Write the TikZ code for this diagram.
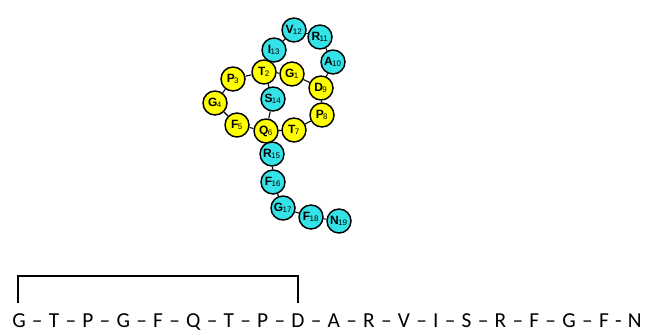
\documentclass[tikz,border=0pt]{standalone}
\usepackage{fontspec}
\setmainfont{Carlito}
\newfontfamily\resfont{Liberation Sans}
\usepackage{tikz}
\usetikzlibrary{positioning, calc}
\definecolor{RingYellow}{HTML}{FFFF00}
\definecolor{TailCyan}{HTML}{33E3E8}

\tikzset{
  residue/.style={circle, draw=black, line width=1.1pt, minimum size=18pt,
                  inner sep=0pt, font=\resfont\bfseries\fontsize{9}{10}\selectfont},
  ring/.style={residue, fill=RingYellow},
  tail/.style={residue, fill=TailCyan},
  bond/.style={draw=black, line width=0.8pt}
}
\newcommand{\resid}[2]{#1\kern-0.5pt\textsubscript{\mdseries #2}}

\begin{document}
\begin{tikzpicture}[x=0.75pt, y=-0.75pt]
\useasboundingbox (0,0) rectangle (645,332);

% lasso ring (yellow)
\node[ring] (g1) at (292,74) {\resid{G}{1}};
\node[ring] (t2) at (264,72) {\resid{T}{2}};
\node[ring] (p3) at (233,79) {\resid{P}{3}};
\node[ring] (g4) at (215,103) {\resid{G}{4}};
\node[ring] (f5) at (237,125) {\resid{F}{5}};
\node[ring] (q6) at (266,131) {\resid{Q}{6}};
\node[ring] (t7) at (294,130) {\resid{T}{7}};
\node[ring] (p8) at (322,115) {\resid{P}{8}};
\node[ring] (d9) at (321,88) {\resid{D}{9}};

% loop and tail (cyan)
\node[tail] (a10) at (333,62) {\resid{A}{10}};
\node[tail] (r11) at (320,37) {\resid{R}{11}};
\node[tail] (v12) at (294,30) {\resid{V}{12}};
\node[tail] (i13) at (274,50) {\resid{I}{13}};
\node[tail] (s14) at (273,99) {\resid{S}{14}};
\node[tail] (r15) at (272,154) {\resid{R}{15}};
\node[tail] (f16) at (273,182) {\resid{F}{16}};
\node[tail] (g17) at (283,208) {\resid{G}{17}};
\node[tail] (f18) at (311,217) {\resid{F}{18}};
\node[tail] (n19) at (339,221) {\resid{N}{19}};

% backbone
\foreach \a/\b in {g1/t2, t2/p3, p3/g4, g4/f5, f5/q6, q6/t7, t7/p8, p8/d9,
                   d9/g1, d9/a10, a10/r11, r11/v12, v12/i13, i13/t2,
                   t2/s14, s14/q6, q6/r15, r15/f16, f16/g17, g17/f18, f18/n19}
  \draw[bond] (\a) -- (\b);

% linear sequence
\node[anchor=base west, inner sep=0pt, font=\fontsize{16}{18}\selectfont]
  (seq) at (12,327)
  {\spaceskip=4.7pt G – T – P – G – F – Q – T – P – D – A – R – V – I – S – R – F – G – F - N};

\coordinate (lk) at (18,303);
\coordinate (rk) at (298,303);
\draw[line width=1.6pt] (lk) -- (18,276) -- (298,276) -- (rk);
\end{tikzpicture}
\end{document}
